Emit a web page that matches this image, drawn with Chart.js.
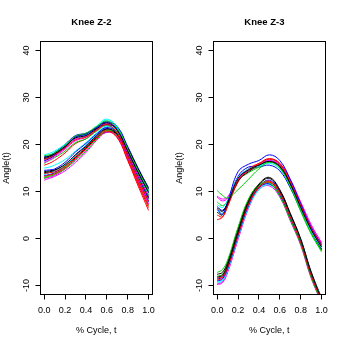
<!DOCTYPE html>
<html>
<head>
<meta charset="utf-8">
<script src="https://cdn.jsdelivr.net/npm/chart.js@4.4.1/dist/chart.umd.min.js"></script>
<style>
  body { margin: 0; background: #fff; }
  .panel { position: absolute; top: 0; width: 173px; height: 346px; }
</style>
</head>
<body>
<div class="panel" style="left:0"><canvas id="z2" width="173" height="346"></canvas></div>
<div class="panel" style="left:173px"><canvas id="z3" width="173" height="346"></canvas></div>
<script>
// % cycle positions where the curves were read
var cycle = [0, 0.05, 0.1, 0.2, 0.3, 0.4, 0.5, 0.6, 0.7, 0.8, 0.9, 1.0];
var xTicks = [0, 0.2, 0.4, 0.6, 0.8, 1.0];
var yTicks = [-10, 0, 10, 20, 30, 40];
// R matplot palette 1:6
var lineColors = ['#000000', '#ff0000', '#00cd00', '#0000ff', '#00ffff', '#ff00ff'];

// Knee Z-2 curves
var kneeZ2 = [
  [17.2, 17.5, 18.0, 19.6, 21.4, 21.9, 23.3, 24.6, 23.0, 18.6, 14.0, 9.8],
  [16.8, 17.2, 17.8, 19.3, 21.0, 21.6, 23.0, 24.2, 22.4, 17.6, 12.6, 8.0],
  [17.6, 17.8, 18.2, 19.8, 21.8, 22.4, 23.8, 25.0, 23.4, 19.0, 14.4, 10.2],
  [16.5, 17.0, 17.7, 19.5, 21.6, 22.2, 23.6, 24.8, 23.2, 18.8, 14.2, 10.0],
  [17.8, 18.1, 18.6, 20.0, 21.4, 22.0, 23.9, 25.4, 23.6, 18.9, 14.0, 9.6],
  [16.2, 16.7, 17.4, 19.0, 20.8, 21.5, 23.1, 24.5, 22.9, 18.2, 13.4, 9.0],
  [14.0, 14.2, 14.5, 15.8, 17.8, 19.6, 21.8, 23.3, 22.2, 18.0, 13.4, 8.8],
  [13.2, 13.5, 13.8, 15.0, 17.0, 19.0, 21.2, 22.8, 21.4, 16.6, 11.2, 6.0],
  [12.8, 13.2, 13.6, 14.8, 16.6, 18.6, 21.0, 23.0, 22.4, 18.2, 13.6, 9.2],
  [14.5, 14.6, 14.8, 16.2, 18.4, 20.2, 22.2, 23.6, 22.4, 18.1, 13.2, 8.6],
  [15.0, 15.2, 15.6, 16.8, 18.6, 20.4, 22.4, 24.0, 22.8, 18.4, 13.6, 9.0],
  [12.4, 12.8, 13.2, 14.4, 16.2, 18.3, 20.8, 22.6, 21.6, 17.2, 12.4, 7.4],
  [17.0, 17.3, 17.9, 19.4, 21.6, 22.2, 23.4, 24.2, 23.4, 19.3, 14.8, 10.6],
  [13.8, 14.0, 14.2, 15.4, 17.4, 19.4, 21.6, 23.0, 21.6, 16.8, 11.6, 6.6],
  [16.0, 16.6, 17.2, 18.6, 20.4, 21.2, 22.8, 24.0, 22.6, 17.8, 12.8, 8.4],
  [17.4, 17.6, 18.2, 20.0, 21.9, 22.4, 23.6, 24.8, 23.8, 19.6, 15.0, 10.8],
  [13.6, 14.0, 14.4, 15.6, 17.6, 19.8, 22.0, 23.8, 22.6, 18.0, 13.0, 8.2],
  [16.6, 17.0, 17.6, 19.2, 21.2, 21.8, 23.2, 24.4, 22.8, 18.0, 13.0, 8.6],
  [14.2, 14.4, 14.6, 15.6, 17.2, 19.2, 21.4, 22.6, 22.2, 18.4, 14.0, 9.6],
  [15.6, 16.0, 16.6, 18.2, 20.2, 21.2, 22.9, 24.1, 22.2, 17.2, 12.0, 7.2],
  [13.0, 13.4, 13.8, 15.2, 17.2, 19.3, 21.5, 23.1, 21.8, 17.0, 12.0, 7.0],
  [13.4, 13.6, 14.0, 15.4, 17.8, 19.8, 21.9, 23.4, 22.0, 17.4, 12.4, 7.8],
  [17.0, 17.6, 18.4, 19.9, 21.2, 21.8, 23.6, 25.2, 23.8, 19.2, 14.6, 10.4],
  [12.8, 13.0, 13.4, 14.8, 16.8, 18.9, 21.3, 23.2, 22.0, 17.6, 12.8, 8.0]
];

// Knee Z-3 curves (upper and lower group)
var kneeZ3 = [
  [6.5, 5.8, 7.5, 12.8, 14.6, 15.6, 16.4, 15.3, 11.6, 6.6, 1.9, -1.8],
  [4.0, 4.5, 7.0, 12.4, 14.4, 15.8, 16.9, 15.8, 12.0, 7.0, 2.2, -1.6],
  [10.2, 9.2, 8.6, 10.4, 12.6, 14.8, 16.2, 15.0, 11.0, 5.8, 1.0, -2.8],
  [6.2, 5.2, 7.8, 14.2, 15.8, 16.6, 17.8, 16.6, 12.6, 7.4, 2.4, -1.4],
  [7.2, 6.6, 8.2, 13.0, 14.8, 15.4, 16.0, 14.8, 11.2, 6.4, 1.6, -2.0],
  [8.8, 8.0, 8.6, 12.6, 14.6, 15.7, 16.6, 15.6, 12.2, 7.6, 2.8, -0.8],
  [5.6, 5.0, 7.2, 12.2, 14.2, 15.5, 16.5, 15.5, 11.8, 6.8, 2.0, -2.2],
  [5.0, 4.6, 6.8, 12.0, 14.8, 16.0, 17.0, 16.0, 12.4, 7.2, 2.4, -1.2],
  [7.8, 7.0, 8.0, 12.4, 14.0, 15.2, 16.3, 15.2, 11.4, 6.2, 1.2, -2.6],
  [6.8, 6.0, 7.6, 13.2, 15.2, 15.2, 15.6, 14.4, 10.8, 6.0, 1.4, -2.4],
  [6.0, 5.4, 7.4, 12.6, 14.4, 15.6, 16.7, 15.7, 12.0, 7.0, 2.2, -1.8],
  [9.0, 8.4, 8.8, 12.8, 14.8, 15.8, 16.8, 16.0, 12.6, 7.8, 3.0, -1.0],
  [-8.2, -7.8, -5.6, 1.4, 7.8, 11.4, 12.8, 10.2, 5.2, -0.2, -7.2, -12.8],
  [-8.8, -8.4, -6.2, 0.8, 7.2, 10.8, 12.0, 9.6, 4.6, -0.8, -7.8, -13.2],
  [-7.2, -6.6, -4.6, 2.4, 8.4, 11.4, 11.8, 9.0, 4.0, -1.2, -8.2, -13.6],
  [-9.0, -8.6, -6.4, 0.6, 7.0, 10.8, 11.6, 9.2, 4.2, -1.0, -8.0, -13.4],
  [-9.4, -9.0, -6.8, 0.2, 6.6, 10.4, 11.4, 9.4, 4.8, -0.4, -7.4, -12.6],
  [-9.8, -9.4, -7.2, -0.2, 6.4, 10.4, 11.2, 8.8, 3.8, -1.4, -8.4, -13.6],
  [-7.6, -7.2, -5.0, 2.0, 8.2, 11.6, 13.0, 10.4, 5.4, 0.0, -7.0, -12.6],
  [-8.4, -8.0, -5.8, 1.2, 7.6, 11.0, 12.2, 9.8, 4.8, -0.6, -7.6, -13.0],
  [-8.0, -7.6, -5.4, 1.6, 7.8, 11.2, 12.0, 9.4, 4.4, -0.8, -7.8, -13.4],
  [-8.6, -8.2, -6.0, 1.0, 7.4, 11.0, 12.4, 10.0, 5.0, -0.4, -7.4, -13.0],
  [-9.2, -8.8, -6.6, 0.4, 6.8, 10.6, 11.8, 9.6, 5.0, -0.2, -7.2, -12.8],
  [-9.6, -9.2, -7.0, 0.0, 6.6, 10.6, 11.6, 9.2, 4.4, -0.8, -7.8, -13.2]
];

Chart.defaults.font.family = '"Liberation Sans", Arial, Helvetica, sans-serif';
Chart.defaults.color = '#000';

// box round the plot region + bold main title, R style
var rBox = {
  id: 'rBox',
  afterDatasetsDraw: function (chart, args, opts) {
    var a = chart.chartArea, ctx = chart.ctx;
    ctx.save();
    ctx.strokeStyle = '#000';
    ctx.lineWidth = 1;
    ctx.strokeRect(Math.round(a.left) + 0.5, Math.round(a.top) + 0.5,
      Math.round(a.right) - Math.round(a.left) - 1, Math.round(a.bottom) - Math.round(a.top) - 1);
    ctx.font = 'bold 9.5px "Liberation Sans", Arial, sans-serif';
    ctx.fillStyle = '#000';
    ctx.textAlign = 'center';
    ctx.textBaseline = 'middle';
    ctx.fillText(opts.text, (a.left + a.right) / 2 - 5, 22);
    ctx.restore();
  }
};

function makeDatasets(rows) {
  return rows.map(function (row, i) {
    return {
      data: cycle.map(function (t, j) { return { x: t, y: row[j] }; }),
      borderColor: lineColors[i % lineColors.length],
      borderWidth: 1,
      pointRadius: 0,
      fill: false,
      tension: 0.4
    };
  });
}

function kneeChart(id, title, rows) {
  return new Chart(document.getElementById(id), {
    type: 'line',
    data: { datasets: makeDatasets(rows) },
    plugins: [rBox],
    options: {
      responsive: false,
      animation: false,
      events: [],
      layout: { padding: { left: 0, right: 20.3, top: 41, bottom: 0 } },
      plugins: {
        legend: { display: false },
        tooltip: { enabled: false },
        rBox: { text: title }
      },
      scales: {
        x: {
          type: 'linear',
          min: -0.04,
          max: 1.04,
          afterBuildTicks: function (s) { s.ticks = xTicks.map(function (v) { return { value: v }; }); },
          afterFit: function (s) { s.height = 51; },
          grid: { drawOnChartArea: false, drawTicks: true, tickLength: 4.5, color: '#000' },
          border: { display: false },
          ticks: {
            autoSkip: false, maxRotation: 0, padding: 6, font: { size: 9 },
            callback: function (v) { return v.toFixed(1); }
          },
          title: { display: true, text: '% Cycle, t', font: { size: 9 }, padding: { top: 0, bottom: 9.9 } }
        },
        y: {
          min: -12,
          max: 42,
          afterBuildTicks: function (s) { s.ticks = yTicks.map(function (v) { return { value: v }; }); },
          afterFit: function (s) { s.width = 40; },
          grid: { drawOnChartArea: false, drawTicks: true, tickLength: 4.5, color: '#000' },
          border: { display: false },
          ticks: {
            minRotation: 90, maxRotation: 90, crossAlign: 'center', padding: 2, font: { size: 9 },
            callback: function (v) { return String(v); }
          },
          title: { display: true, text: 'Angle(t)', font: { size: 9 }, padding: { top: 1, bottom: 0 } }
        }
      }
    }
  });
}

kneeChart('z2', 'Knee Z-2', kneeZ2);
kneeChart('z3', 'Knee Z-3', kneeZ3);
</script>
</body>
</html>
